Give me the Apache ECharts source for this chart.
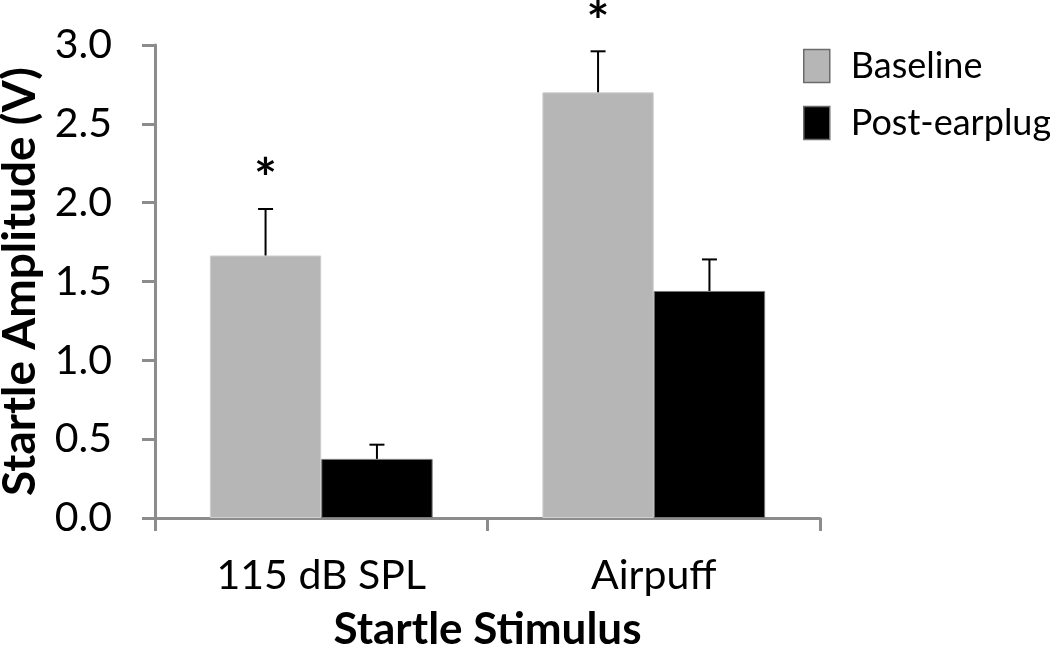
<!DOCTYPE html>
<html>
<head>
<meta charset="utf-8">
<script src="https://cdn.jsdelivr.net/npm/echarts@6/dist/echarts.min.js"></script>
<style>
html,body{margin:0;padding:0;background:#fff;}
#chart{width:1050px;height:659px;}
</style>
</head>
<body>
<div id="chart"></div>
<script>
const categories = ['115 dB SPL', 'Airpuff'];
const seriesNames = ['Baseline', 'Post-earplug'];
const baseline = [1.665, 2.70];
const baselineErr = [0.295, 0.26];
const postEarplug = [0.375, 1.44];
const postEarplugErr = [0.09, 0.20];
const baselineSignificant = [1, 1];
const yMin = 0, yMax = 3.0, yStep = 0.5;

const FONT = 'Lato';
const axisGrey = '#8c8c8c';
const barCatGap = 0.33;

function errorRenderer(sign) {
  return function (params, api) {
    const i = api.value(0), v = api.value(1), e = api.value(2), sig = api.value(3);
    const base = api.coord([i, v]);
    const top = api.coord([i, v + e]);
    const catW = api.size([1, 0])[0];
    const barW = catW * (1 - barCatGap) / 2;
    const x = base[0] + sign * barW / 2;
    const children = [
      {type: 'line', shape: {x1: x, y1: base[1], x2: x, y2: top[1]}, style: {stroke: '#000', lineWidth: 2}},
      {type: 'line', shape: {x1: x - 7.5, y1: top[1], x2: x + 7.5, y2: top[1]}, style: {stroke: '#000', lineWidth: 2}}
    ];
    if (sig) {
      children.push({type: 'text', style: {x: x, y: top[1] - 2, text: '*', fill: '#000',
        font: 'bold 54px ' + FONT, align: 'center', verticalAlign: 'bottom'}});
    }
    return {type: 'group', children: children};
  };
}

const chart = echarts.init(document.getElementById('chart'));
chart.setOption({
  animation: false,
  backgroundColor: '#fff',
  textStyle: {fontFamily: FONT},
  grid: {left: 155, right: 230, top: 45, bottom: 141, containLabel: false, outerBoundsMode: 'none'},
  legend: {
    data: seriesNames,
    orient: 'vertical',
    left: 803, top: 48,
    itemWidth: 26, itemHeight: 33, itemGap: 21,
    padding: 0,
    icon: 'rect',
    itemStyle: {borderColor: '#6b6b6b', borderWidth: 1.5},
    textStyle: {fontFamily: FONT, fontSize: 36, color: '#000', padding: [0, 0, 0, 16]}
  },
  xAxis: {
    type: 'category',
    data: categories,
    name: 'Startle Stimulus',
    nameLocation: 'middle',
    nameGap: 90,
    nameTextStyle: {fontFamily: FONT, fontSize: 44, fontWeight: 'bold', color: '#000'},
    axisLine: {lineStyle: {color: axisGrey, width: 3}},
    axisTick: {show: true, length: 13, lineStyle: {color: axisGrey, width: 3}},
    axisLabel: {fontFamily: FONT, fontSize: 41, color: '#000', margin: 37}
  },
  yAxis: {
    type: 'value',
    min: yMin, max: yMax, interval: yStep,
    name: 'Startle Amplitude (V)',
    nameLocation: 'middle',
    nameGap: 112,
    nameTextStyle: {fontFamily: FONT, fontSize: 46, fontWeight: 'bold', color: '#000'},
    axisLine: {show: true, lineStyle: {color: axisGrey, width: 3}},
    axisTick: {show: true, length: 13, lineStyle: {color: axisGrey, width: 3}},
    splitLine: {show: false},
    axisLabel: {fontFamily: FONT, fontSize: 41, color: '#000', margin: 43,
      formatter: v => v.toFixed(1)}
  },
  series: [
    {name: seriesNames[0], type: 'bar', data: baseline, barGap: '0%', barCategoryGap: '33%',
      itemStyle: {color: '#b6b6b6', borderColor: '#cfcfcf', borderWidth: 1}},
    {name: seriesNames[1], type: 'bar', data: postEarplug, barGap: '0%', barCategoryGap: '33%',
      itemStyle: {color: '#000', borderColor: '#777', borderWidth: 1}},
    {type: 'custom', renderItem: errorRenderer(-1), z: 5,
      data: categories.map((c, i) => [i, baseline[i], baselineErr[i], baselineSignificant[i]])},
    {type: 'custom', renderItem: errorRenderer(1), z: 5,
      data: categories.map((c, i) => [i, postEarplug[i], postEarplugErr[i], 0])}
  ]
});
</script>
</body>
</html>
